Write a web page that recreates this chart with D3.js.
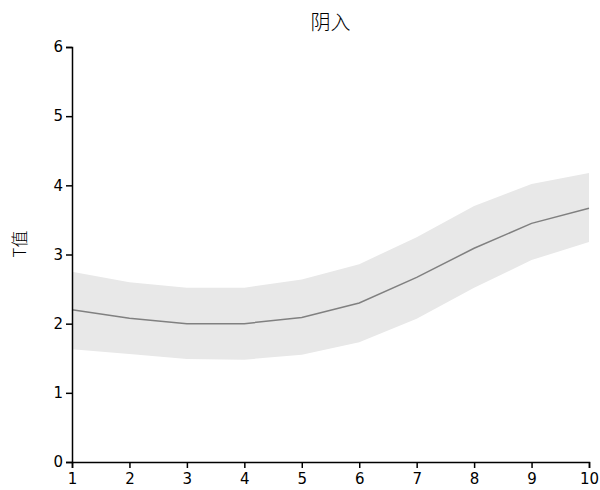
<!DOCTYPE html>
<html>
<head>
<meta charset="utf-8">
<script src="https://cdn.jsdelivr.net/npm/d3@7"></script>
<style>
  body { margin: 0; background: #fff; }
  text { font-family: "DejaVu Sans", sans-serif; }
</style>
</head>
<body>
<div id="chart"></div>
<script>
// data
var xs    = [1, 2, 3, 4, 5, 6, 7, 8, 9, 10];
var mean  = [2.20, 2.08, 2.00, 2.00, 2.09, 2.30, 2.67, 3.09, 3.45, 3.67];
var upper = [2.75, 2.60, 2.52, 2.52, 2.64, 2.86, 3.25, 3.70, 4.02, 4.18];
var lower = [1.63, 1.56, 1.49, 1.48, 1.55, 1.73, 2.07, 2.52, 2.92, 3.18];
var yTicks = [0, 1, 2, 3, 4, 5, 6];

var margin = {top: 47, right: 11, bottom: 28, left: 72},
    width = 600 - margin.left - margin.right,
    height = 490 - margin.top - margin.bottom;

var svg = d3.select("#chart")
  .append("svg")
    .attr("width", 600)
    .attr("height", 490)
  .append("g")
    .attr("transform", "translate(" + margin.left + "," + margin.top + ")");

var x = d3.scaleLinear().domain([1, 10]).range([0, width]);
var y = d3.scaleLinear().domain([0, 6]).range([height, 0]);

var data = xs.map(function (d, i) {
  return {x: d, m: mean[i], hi: upper[i], lo: lower[i]};
});

// band
svg.append("path")
  .datum(data)
  .attr("fill", "#e8e8e8")
  .attr("d", d3.area()
    .x(function (d) { return x(d.x); })
    .y0(function (d) { return y(d.lo); })
    .y1(function (d) { return y(d.hi); }));

// mean line
svg.append("path")
  .datum(data)
  .attr("fill", "none")
  .attr("stroke", "#808080")
  .attr("stroke-width", 1.5)
  .attr("d", d3.line()
    .x(function (d) { return x(d.x); })
    .y(function (d) { return y(d.m); }));

// axes
var xAxis = svg.append("g")
  .attr("transform", "translate(0," + height + ")")
  .call(d3.axisBottom(x).tickValues(xs).tickFormat(d3.format("d")).tickSizeOuter(0).tickSize(6));
var yAxis = svg.append("g")
  .call(d3.axisLeft(y).tickValues(yTicks).tickFormat(d3.format("d")).tickSizeOuter(0).tickSize(6));

[xAxis, yAxis].forEach(function (a) {
  a.select(".domain").attr("stroke", "#000").attr("stroke-width", 1.5);
  a.selectAll(".tick line").attr("stroke", "#000").attr("stroke-width", 1.5);
  a.selectAll(".tick text").attr("fill", "#000").style("font-size", "15px");
});
xAxis.selectAll(".tick text").attr("dy", "0.85em");

// title
svg.append("text")
  .attr("x", width / 2)
  .attr("y", -17)
  .attr("text-anchor", "middle")
  .style("font-family", "'Noto Sans CJK SC', sans-serif")
  .style("font-size", "20px")
  .style("font-weight", "300")
  .text("阴入");

// y label
svg.append("text")
  .attr("transform", "translate(" + (-46) + "," + (197) + ") rotate(-90)")
  .attr("text-anchor", "middle")
  .style("font-family", "'Noto Sans CJK SC', sans-serif")
  .style("font-size", "17px")
  .style("font-weight", "300")
  .text("T值");
</script>
</body>
</html>
